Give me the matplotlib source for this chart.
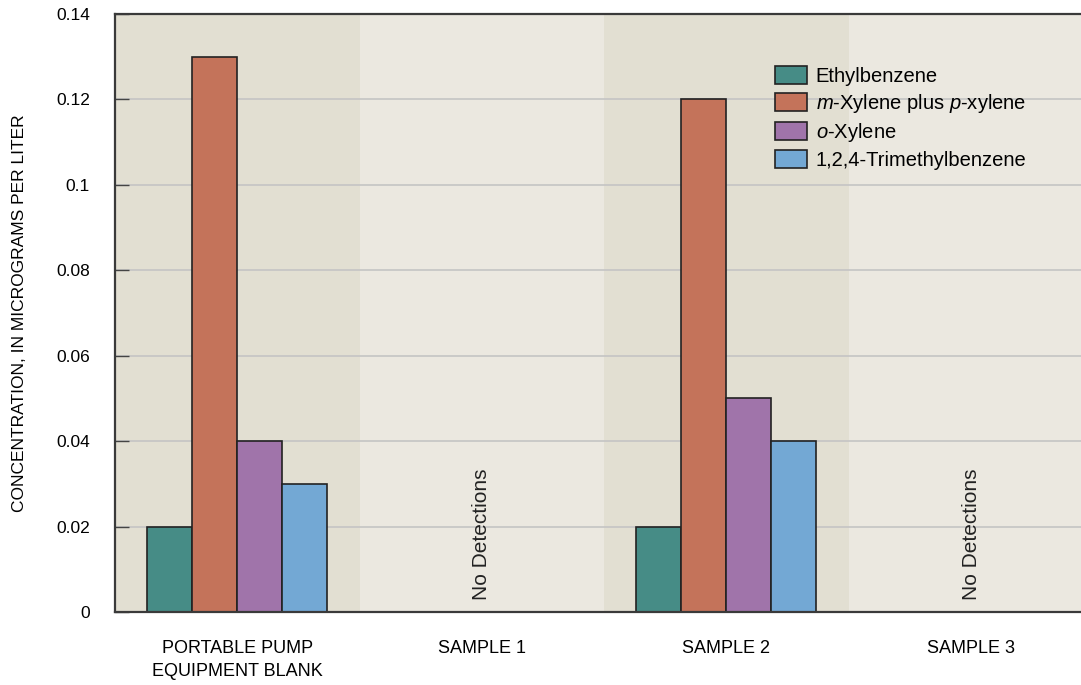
import numpy as np
import matplotlib
matplotlib.use("Agg")
import matplotlib.pyplot as plt

plt.rcParams['font.family'] = ['Liberation Sans', 'DejaVu Sans']
plt.rcParams['mathtext.fontset'] = 'custom'
plt.rcParams['mathtext.it'] = 'Liberation Sans:italic'
plt.rcParams['mathtext.rm'] = 'Liberation Sans'

groups = ['PORTABLE PUMP\nEQUIPMENT BLANK', 'SAMPLE 1', 'SAMPLE 2', 'SAMPLE 3']
series = ['Ethylbenzene', r'$\it{m}$-Xylene plus $\it{p}$-xylene',
          r'$\it{o}$-Xylene', '1,2,4-Trimethylbenzene']
ethylbenzene = [0.02, 0, 0.02, 0]
mp_xylene = [0.13, 0, 0.12, 0]
o_xylene = [0.04, 0, 0.05, 0]
tmb = [0.03, 0, 0.04, 0]
no_detect = [False, True, False, True]
yticks = [0, 0.02, 0.04, 0.06, 0.08, 0.1, 0.12, 0.14]
ytick_labels = ['0', '0.02', '0.04', '0.06', '0.08', '0.1', '0.12', '0.14']

colors = ['#468c86', '#c4735a', '#a074aa', '#73a8d4']
bands = ['#e2dfd2', '#ebe8e0']

fig = plt.figure(figsize=(10.81, 6.85), dpi=100)
ax = fig.add_axes([0.1064, 0.1066, 0.905, 0.873])

x = np.arange(len(groups))
w = 0.184
# alternating background bands behind each group
for i in x:
    ax.axvspan(i - 0.5, i + 0.5, color=bands[i % 2], zorder=0.2, lw=0)

for k, (vals, name) in enumerate(zip([ethylbenzene, mp_xylene, o_xylene, tmb], series)):
    ax.bar(x + (k - 1.5) * w, vals, w, color=colors[k], edgecolor='#222222',
           linewidth=1.2, label=name, zorder=2)

for i, nd in enumerate(no_detect):
    if nd:
        ax.text(i, 0.0028, 'No Detections', rotation=90, ha='center', va='bottom',
                fontsize=15, color='#222222', zorder=3)

ax.set_xlim(-0.5, 3.5)
ax.set_ylim(0, 0.14)
ax.set_yticks(yticks)
ax.set_yticklabels(ytick_labels, fontsize=12.5)
ax.set_xticks(x)
ax.set_xticklabels(groups, fontsize=13, linespacing=1.45)
ax.tick_params(axis='x', length=0, pad=20)
ax.tick_params(axis='y', direction='in', length=10, width=1, color='#444444', pad=18)
ax.set_ylabel('CONCENTRATION, IN MICROGRAMS PER LITER', fontsize=12.5)
ax.yaxis.set_label_coords(-0.09, 0.5)

ax.yaxis.grid(True, color='#c4c4c4', linewidth=1.2)
ax.set_axisbelow(True)
for s in ['left', 'top', 'bottom']:
    ax.spines[s].set_color('#3a3a3a')
    ax.spines[s].set_linewidth(1.6)
ax.spines['right'].set_visible(False)

ax.legend(loc='upper left', bbox_to_anchor=(0.675, 0.913), frameon=False,
          fontsize=14.5, handlelength=1.55, handleheight=1.0, labelspacing=0.3,
          handletextpad=0.45, borderpad=0, borderaxespad=0)

fig.savefig('out.png', dpi=100)
